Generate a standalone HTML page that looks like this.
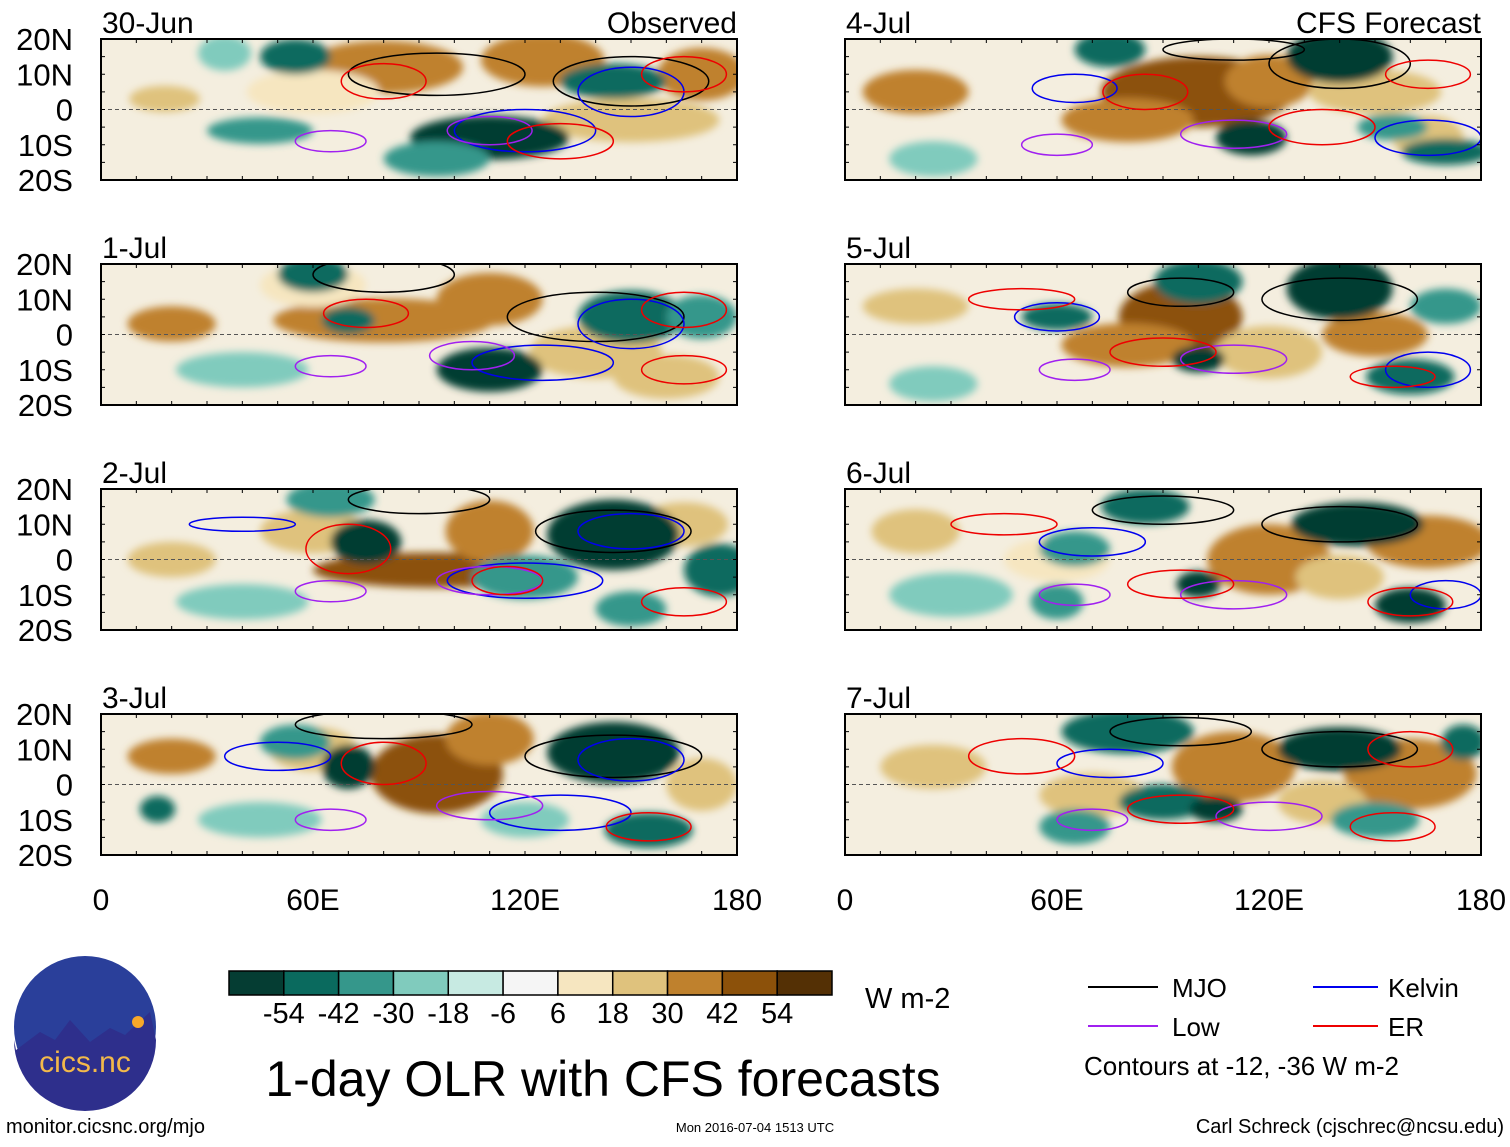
<!DOCTYPE html>
<html><head><meta charset="utf-8">
<style>
html,body{margin:0;padding:0;background:#fff;}
body{width:1510px;height:1142px;overflow:hidden;font-family:"Liberation Sans",sans-serif;}
svg text{font-family:"Liberation Sans",sans-serif;}
</style></head>
<body>
<svg id="c" width="1510" height="1142" xmlns="http://www.w3.org/2000/svg">
<defs>
<filter id="bl" x="-50%" y="-50%" width="200%" height="200%"><feGaussianBlur stdDeviation="4"/></filter>
</defs>
</svg>
<script>
const panelTitles=["30-Jun","1-Jul","2-Jul","3-Jul","4-Jul","5-Jul","6-Jul","7-Jul"];
const latTicks=["20N","10N","0","10S","20S"];
const latVals=[20,10,0,-10,-20];
const lonTicks=["0","60E","120E","180"];
const lonVals=[0,60,120,180];
const cbLevels=[-54,-42,-30,-18,-6,6,18,30,42,54];
const cbColors=["#053d33","#0a6a5e","#35978b","#80cbbd","#c7eae2","#f5f5f5","#f6e6c0","#dfc27d","#bf812d","#8c510a","#543005"];
// OLR anomaly blobs per panel: [lon, lat, lonRadius, latRadius, value W m-2]
const blobs0=[[80,12,18,6,42],[125,14,14,6,42],[18,3,8,3,30],[150,-3,20,5,30],[60,5,15,5,18],[170,10,10,6,42],[110,-8,18,5,-54],[55,15,8,4,-42],[45,-6,12,3,-30],[145,8,12,4,-42],[35,16,6,4,-18],[95,-14,12,4,-30]];
const blobs1=[[80,4,25,5,42],[110,10,12,6,42],[20,3,10,4,42],[140,-5,15,6,30],[60,14,12,5,18],[160,-12,12,5,30],[110,-10,12,5,-54],[150,5,12,6,-42],[60,17,8,4,-42],[70,4,6,3,-42],[40,-10,15,4,-18],[170,5,8,5,-30]];
const blobs2=[[95,-3,28,4,54],[110,8,10,7,42],[20,0,10,4,30],[60,8,12,5,30],[165,10,10,5,30],[75,5,8,5,-54],[145,7,15,8,-54],[120,-5,12,5,-30],[65,17,10,4,-30],[175,-3,8,6,-42],[40,-12,15,4,-18],[150,-14,8,4,-30]];
const blobs3=[[95,3,15,9,54],[110,13,10,6,42],[20,8,10,4,42],[60,10,10,5,30],[170,0,8,6,30],[70,5,6,5,-54],[145,9,15,7,-54],[155,-13,10,4,-42],[55,12,8,4,-30],[45,-10,14,4,-18],[16,-7,4,3,-42],[120,-10,10,4,-18]];
const blobs4=[[100,5,22,8,54],[120,8,10,6,42],[20,5,12,5,42],[80,-3,15,5,42],[150,5,15,5,30],[165,-8,8,5,30],[140,15,12,6,-54],[115,-8,8,4,-54],[75,17,8,4,-42],[170,-12,10,3,-42],[25,-14,10,4,-18],[155,-5,8,3,-30]];
const blobs5=[[95,5,14,8,54],[80,-3,15,5,42],[20,8,12,4,30],[120,-5,12,6,30],[150,0,12,5,42],[140,13,12,7,-54],[100,15,10,5,-42],[60,5,8,3,-42],[160,-12,10,4,-42],[170,8,8,4,-30],[100,-7,6,3,-54],[25,-14,10,4,-18]];
const blobs6=[[120,0,14,8,42],[165,5,14,6,42],[20,8,10,5,30],[60,0,12,5,18],[140,-5,10,5,30],[145,10,15,5,-54],[85,15,10,4,-42],[65,3,8,4,-30],[100,-7,5,3,-54],[160,-13,8,4,-54],[60,-12,6,4,-30],[30,-10,14,5,-18]];
const blobs7=[[110,5,14,8,42],[160,3,15,8,42],[25,5,12,5,30],[70,-3,12,5,30],[135,-5,10,5,30],[140,10,14,5,-54],[80,15,15,5,-42],[90,-5,10,4,-42],[105,-7,6,3,-54],[65,-12,8,4,-30],[150,-10,10,4,-30],[175,12,5,4,-42]];
const allBlobs=[blobs0,blobs1,blobs2,blobs3,blobs4,blobs5,blobs6,blobs7];
// contours: [lon, lat, lonRadius, latRadius, type]
const contours0=[[95,10,25,6,"MJO"],[150,8,22,7,"MJO"],[120,-6,20,6,"Kelvin"],[150,5,15,7,"Kelvin"],[65,-9,10,3,"Low"],[110,-6,12,4,"Low"],[80,8,12,5,"ER"],[130,-9,15,5,"ER"],[165,10,12,5,"ER"]];
const contours1=[[80,17,20,5,"MJO"],[140,5,25,7,"MJO"],[125,-8,20,5,"Kelvin"],[150,3,15,7,"Kelvin"],[65,-9,10,3,"Low"],[105,-6,12,4,"Low"],[75,6,12,4,"ER"],[165,-10,12,4,"ER"],[165,7,12,5,"ER"]];
const contours2=[[90,17,20,4,"MJO"],[145,8,22,6,"MJO"],[120,-6,22,5,"Kelvin"],[150,8,15,5,"Kelvin"],[40,10,15,2,"Kelvin"],[65,-9,10,3,"Low"],[110,-6,15,4,"Low"],[70,3,12,7,"ER"],[165,-12,12,4,"ER"],[115,-6,10,4,"ER"]];
const contours3=[[80,17,25,4,"MJO"],[145,8,25,6,"MJO"],[130,-8,20,5,"Kelvin"],[50,8,15,4,"Kelvin"],[150,7,15,6,"Kelvin"],[65,-10,10,3,"Low"],[110,-6,15,4,"Low"],[80,6,12,6,"ER"],[155,-12,12,4,"ER"]];
const contours4=[[140,13,20,7,"MJO"],[110,17,20,3,"MJO"],[65,6,12,4,"Kelvin"],[165,-8,15,5,"Kelvin"],[60,-10,10,3,"Low"],[110,-7,15,4,"Low"],[85,5,12,5,"ER"],[135,-5,15,5,"ER"],[165,10,12,4,"ER"]];
const contours5=[[140,10,22,6,"MJO"],[95,12,15,4,"MJO"],[60,5,12,4,"Kelvin"],[165,-10,12,5,"Kelvin"],[65,-10,10,3,"Low"],[110,-7,15,4,"Low"],[50,10,15,3,"ER"],[90,-5,15,4,"ER"],[155,-12,12,3,"ER"]];
const contours6=[[140,10,22,5,"MJO"],[90,14,20,4,"MJO"],[70,5,15,4,"Kelvin"],[170,-10,10,4,"Kelvin"],[65,-10,10,3,"Low"],[110,-10,15,4,"Low"],[45,10,15,3,"ER"],[95,-7,15,4,"ER"],[160,-12,12,4,"ER"]];
const contours7=[[140,10,22,5,"MJO"],[95,15,20,4,"MJO"],[75,6,15,4,"Kelvin"],[70,-10,10,3,"Low"],[120,-9,15,4,"Low"],[50,8,15,5,"ER"],[95,-7,15,4,"ER"],[155,-12,12,4,"ER"],[160,10,12,5,"ER"]];
const allContours=[contours0,contours1,contours2,contours3,contours4,contours5,contours6,contours7];
const ctColors={MJO:"#000",Kelvin:"#0000ee",Low:"#a020f0",ER:"#ee0000"};

const NS="http://www.w3.org/2000/svg";
const svg=document.getElementById("c");
const defs=svg.querySelector("defs");
function mk(t,a,p){const e=document.createElementNS(NS,t);for(const k in a)e.setAttribute(k,a[k]);(p||svg).appendChild(e);return e;}
function colorFor(v){let i=0;while(i<cbLevels.length&&v>cbLevels[i])i++;return cbColors[i];}
const colX=[101,845], rowY=[39,264,489,714], PW=636, PH=141, BS=1.25;
for(let p=0;p<8;p++){
  const x0=colX[p<4?0:1], y0=rowY[p%4];
  const xs=lon=>x0+lon/180*PW, ys=lat=>y0+(20-lat)/40*PH;
  const g=mk("g",{});
  
  
  const cp=mk("clipPath",{id:"cp"+p},defs);
  mk("rect",{x:x0,y:y0,width:PW,height:PH},cp);
  const inner=mk("g",{"clip-path":"url(#cp"+p+")"},g);
  mk("rect",{x:x0,y:y0,width:PW,height:PH,fill:"#f4eedf"},inner);
  const fg=mk("g",{filter:"url(#bl)"},inner);
  allBlobs[p].forEach(b=>{
    const e=mk("ellipse",{cx:xs(b[0]),cy:ys(b[1]),rx:BS*b[2]/180*PW,ry:BS*b[3]/40*PH,fill:colorFor(b[4])},fg);
    
    
  });
  mk("line",{x1:x0,y1:ys(0),x2:x0+PW,y2:ys(0),stroke:"#555","stroke-dasharray":"4,3","stroke-width":1},inner);
  allContours[p].forEach(c=>{
    const e=mk("ellipse",{cx:xs(c[0]),cy:ys(c[1]),rx:c[2]/180*PW,ry:c[3]/40*PH,fill:"none",stroke:ctColors[c[4]],"stroke-width":1.5},inner);
    
    
  });
  mk("rect",{x:x0,y:y0,width:PW,height:PH,fill:"none",stroke:"#000","stroke-width":2},g);
  for(let l=0;l<=180;l+=10){mk("line",{x1:xs(l),y1:y0,x2:xs(l),y2:y0+4,stroke:"#000"},g);mk("line",{x1:xs(l),y1:y0+PH,x2:xs(l),y2:y0+PH-4,stroke:"#000"},g);}
  for(let la=-20;la<=20;la+=5){mk("line",{x1:x0,y1:ys(la),x2:x0+4,y2:ys(la),stroke:"#000"},g);mk("line",{x1:x0+PW,y1:ys(la),x2:x0+PW-4,y2:ys(la),stroke:"#000"},g);}
  const t=mk("text",{x:x0+1,y:y0-6,"font-size":30},g);t.textContent=panelTitles[p];
  
  if(p===0){const o=mk("text",{x:x0+PW,y:y0-6,"font-size":30,"text-anchor":"end"},g);o.textContent="Observed";}
  if(p===4){const o=mk("text",{x:x0+PW,y:y0-6,"font-size":30,"text-anchor":"end"},g);o.textContent="CFS Forecast";}
  if(p<4){latVals.forEach((v,i)=>{const tt=mk("text",{x:73,y:ys(v)+11,"font-size":31,"text-anchor":"end"},g);tt.textContent=latTicks[i];});}
  if(p%4===3){lonVals.forEach((v,i)=>{const tt=mk("text",{x:xs(v),y:910,"font-size":30,"text-anchor":"middle"},g);tt.textContent=lonTicks[i];});}
}
// colorbar
const cb=mk("g",{});
const cbx=229,cbw=603/11;
cbColors.forEach((c,i)=>{mk("rect",{x:cbx+i*cbw,y:971,width:cbw,height:24,fill:c,stroke:"#000","stroke-width":1.5},cb);});
cbLevels.forEach((v,i)=>{const t=mk("text",{x:cbx+(i+1)*cbw,y:1023,"font-size":29,"text-anchor":"middle"},cb);t.textContent=v;});
</script>
<svg width="1510" height="1142" style="position:absolute;left:0;top:0" xmlns="http://www.w3.org/2000/svg">
<text x="865" y="1008" font-size="29">W m-2</text>
<text x="603" y="1096" font-size="50" text-anchor="middle">1-day OLR with CFS forecasts</text>
<g>
<circle cx="85" cy="1027" r="71" fill="#2a3f9a"/>
<path d="M16 1050 L40 1032 L55 1040 L70 1020 L90 1042 L110 1028 L125 1035 L150 1012 L156 1040 A71 71 0 0 1 14 1040 Z" fill="#2e2f8c"/>
<circle cx="138" cy="1022" r="6" fill="#f7a829"/>
<text x="85" y="1072" font-size="30" text-anchor="middle" fill="#f3b94a">cics.nc</text>
</g>
<text x="6" y="1133" font-size="20">monitor.cicsnc.org/mjo</text>
<text x="755" y="1132" font-size="13" text-anchor="middle">Mon 2016-07-04 1513 UTC</text>
<text x="1504" y="1133" font-size="20" text-anchor="end">Carl Schreck (cjschrec@ncsu.edu)</text>
<g>
<line x1="1088" y1="987" x2="1158" y2="987" stroke="#000" stroke-width="2"/><text x="1172" y="997" font-size="26">MJO</text>
<line x1="1313" y1="987" x2="1378" y2="987" stroke="#0000ee" stroke-width="2"/><text x="1388" y="997" font-size="26">Kelvin</text>
<line x1="1088" y1="1026" x2="1158" y2="1026" stroke="#a020f0" stroke-width="2"/><text x="1172" y="1036" font-size="26">Low</text>
<line x1="1313" y1="1026" x2="1378" y2="1026" stroke="#ee0000" stroke-width="2"/><text x="1388" y="1036" font-size="26">ER</text>
<text x="1084" y="1075" font-size="26">Contours at -12, -36 W m-2</text>
</g>
</svg>
</body></html>
